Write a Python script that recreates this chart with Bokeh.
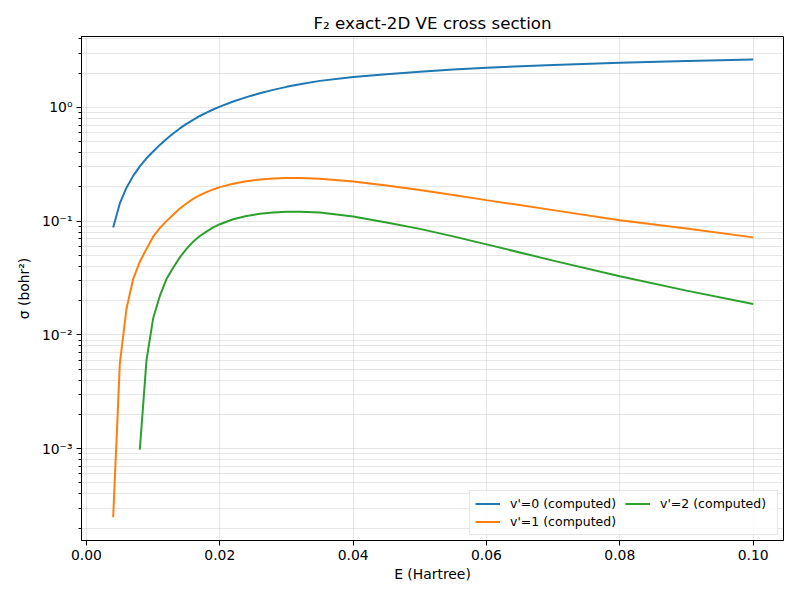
from bokeh.plotting import figure
from bokeh.models import Range1d, FixedTicker, CustomJSTickFormatter, PrintfTickFormatter, Legend, LegendItem
from bokeh.embed import file_html
from bokeh.resources import INLINE

# energies (Hartree) and cross sections (bohr^2)
E_v0 = [0.004, 0.005, 0.006, 0.007, 0.008, 0.009, 0.010, 0.011, 0.012, 0.013, 0.014, 0.015, 0.016,
        0.017, 0.018, 0.019, 0.020, 0.022, 0.024, 0.026, 0.028, 0.030, 0.032, 0.035, 0.040,
        0.045, 0.050, 0.055, 0.060, 0.070, 0.080, 0.090, 0.100]
sig_v0 = [0.088, 0.143, 0.197, 0.25, 0.303, 0.357, 0.41, 0.468, 0.528, 0.59, 0.653, 0.716, 0.778,
          0.84, 0.90, 0.958, 1.015, 1.125, 1.23, 1.33, 1.425, 1.515, 1.60, 1.71, 1.85,
          1.96, 2.06, 2.15, 2.23, 2.36, 2.47, 2.56, 2.64]

E_v1 = E_v0
sig_v1 = [2.5e-4, 5.6e-3, 0.017, 0.031, 0.044, 0.057, 0.073, 0.087, 0.100, 0.114, 0.129, 0.143, 0.157,
          0.169, 0.180, 0.190, 0.199, 0.213, 0.224, 0.232, 0.237, 0.240, 0.240, 0.236, 0.223,
          0.206, 0.188, 0.170, 0.153, 0.125, 0.102, 0.086, 0.072]

E_v2 = E_v0[4:]
sig_v2 = [9.8e-4, 6.0e-3, 0.014, 0.022, 0.031, 0.039, 0.048, 0.057, 0.066,
          0.074, 0.081, 0.088, 0.094, 0.104, 0.111, 0.116, 0.119, 0.121, 0.121, 0.119, 0.110,
          0.0975, 0.0855, 0.0735, 0.0625, 0.045, 0.0328, 0.0245, 0.0187]

x_ticks = [0.0, 0.02, 0.04, 0.06, 0.08, 0.10]
y_ticks = [1e-3, 1e-2, 1e-1, 1e0]

FONT = "DejaVu Sans"

p = figure(width=784, height=584, y_axis_type="log",
           x_range=Range1d(-0.00075, 0.10455), y_range=Range1d(10 ** -3.807, 10 ** 0.623),
           output_backend="svg", toolbar_location=None,
           min_border_left=81, min_border_right=1, min_border_top=36, min_border_bottom=43,
           title="F\u2082 exact-2D VE cross section")

p.title.align = "center"
p.title.text_font = FONT
p.title.text_font_size = "16.7px"
p.title.text_font_style = "normal"
p.title.text_color = "black"
p.title.standoff = 7

p.outline_line_color = "black"
p.outline_line_alpha = 1

r0 = p.line(E_v0, sig_v0, line_width=2, color="#1f77b4")
r1 = p.line(E_v1, sig_v1, line_width=2, color="#ff7f0e")
r2 = p.line(E_v2, sig_v2, line_width=2, color="#2ca02c")

# axes
p.xaxis.ticker = FixedTicker(ticks=x_ticks)
p.xaxis.formatter = PrintfTickFormatter(format="%.2f")
minor = [m * 10.0 ** k for k in range(-4, 1) for m in range(2, 10)]
p.yaxis.ticker = FixedTicker(ticks=y_ticks, minor_ticks=minor)
p.yaxis.formatter = CustomJSTickFormatter(code="""
const e = Math.round(Math.log10(tick));
const sup = {'-': '\u207b', '0': '\u2070', '1': '\u00b9', '2': '\u00b2', '3': '\u00b3', '4': '\u2074'};
return '10' + String(e).split('').map(c => sup[c]).join('');
""")

p.xaxis.axis_label = "E (Hartree)"
p.yaxis.axis_label = "\u03c3 (bohr\u00b2)"
for ax in (p.xaxis, p.yaxis):
    ax.axis_label_text_font = FONT
    ax.axis_label_text_font_size = "13.9px"
    ax.axis_label_text_font_style = "normal"
    ax.axis_label_text_color = "black"
    ax.major_label_text_font = FONT
    ax.major_label_text_font_size = "13.9px"
    ax.major_label_text_color = "black"
    ax.major_label_standoff = 4
    ax.axis_line_color = "black"
    ax.major_tick_line_color = "black"
    ax.minor_tick_line_color = "black"
    ax.major_tick_out = 5
    ax.major_tick_in = 0
    ax.minor_tick_out = 3
    ax.minor_tick_in = 0
p.xaxis.axis_label_standoff = 3
p.yaxis.axis_label_standoff = 7
p.xaxis.minor_tick_line_color = None

# grid
p.xgrid.grid_line_color = "#b0b0b0"
p.xgrid.grid_line_alpha = 0.3
p.ygrid.grid_line_color = "#b0b0b0"
p.ygrid.grid_line_alpha = 0.3
p.ygrid.minor_grid_line_color = "#b0b0b0"
p.ygrid.minor_grid_line_alpha = 0.3

legend = Legend(items=[
    LegendItem(label="v'=0 (computed)", renderers=[r0]),
    LegendItem(label="v'=1 (computed)", renderers=[r1]),
    LegendItem(label="v'=2 (computed)", renderers=[r2]),
], location="bottom_right", ncols=2)
legend.label_text_font = FONT
legend.label_text_font_size = "12.5px"
legend.label_text_color = "black"
legend.glyph_width = 25
legend.glyph_height = 15
legend.label_height = 15
legend.label_width = 112
legend.label_standoff = 10
legend.spacing = 3
legend.padding = 5
legend.margin = 5
legend.border_line_color = "#cccccc"
legend.background_fill_alpha = 0.8
p.add_layout(legend)

open("out.html", "w").write(file_html(p, INLINE))
